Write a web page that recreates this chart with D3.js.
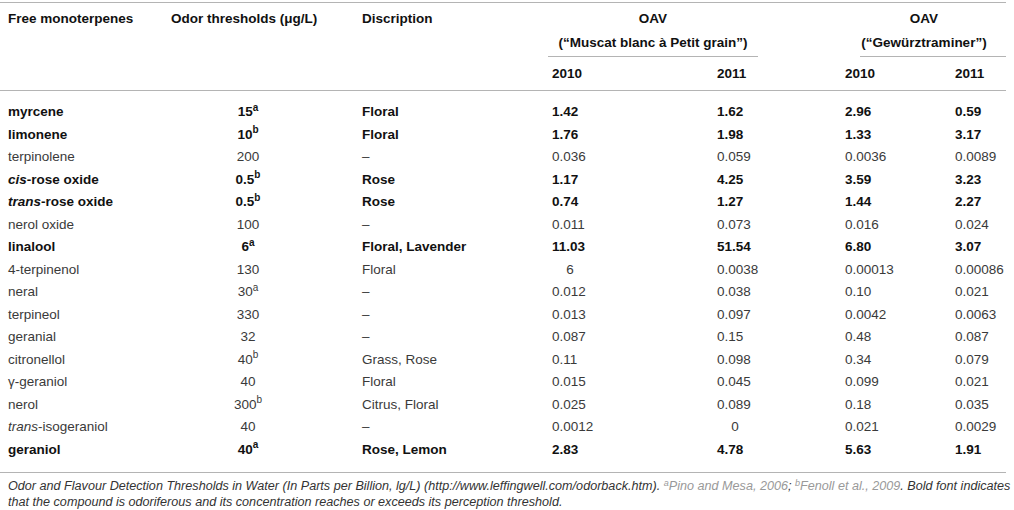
<!DOCTYPE html>
<html>
<head>
<meta charset="utf-8">
<script src="https://cdn.jsdelivr.net/npm/d3@7/dist/d3.min.js"></script>
<style>
  body { margin: 0; background: #fff; }
  svg text { font-family: "Liberation Sans", Arial, Helvetica, sans-serif; }
</style>
</head>
<body>
<div id="table"></div>
<script>
// table content
var compounds = ['myrcene', 'limonene', 'terpinolene', '*cis*-rose oxide', '*trans*-rose oxide', 'nerol oxide',
	'linalool', '4-terpinenol', 'neral', 'terpineol', 'geranial', 'citronellol', 'γ-geraniol', 'nerol',
	'*trans*-isogeraniol', 'geraniol'];
var thresholds = ['15', '10', '200', '0.5', '0.5', '100', '6', '130', '30', '330', '32', '40', '40', '300', '40', '40'];
var thresholdRefs = ['a', 'b', '', 'b', 'b', '', 'a', '', 'a', '', '', 'b', '', 'b', '', 'a'];
var descriptions = ['Floral', 'Floral', '–', 'Rose', 'Rose', '–', 'Floral, Lavender', 'Floral', '–', '–', '–',
	'Grass, Rose', 'Floral', 'Citrus, Floral', '–', 'Rose, Lemon'];
var muscat2010 = ['1.42', '1.76', '0.036', '1.17', '0.74', '0.011', '11.03', '6', '0.012', '0.013', '0.087', '0.11', '0.015', '0.025', '0.0012', '2.83'];
var muscat2011 = ['1.62', '1.98', '0.059', '4.25', '1.27', '0.073', '51.54', '0.0038', '0.038', '0.097', '0.15', '0.098', '0.045', '0.089', '0', '4.78'];
var gewurz2010 = ['2.96', '1.33', '0.0036', '3.59', '1.44', '0.016', '6.80', '0.00013', '0.10', '0.0042', '0.48', '0.34', '0.099', '0.18', '0.021', '5.63'];
var gewurz2011 = ['0.59', '3.17', '0.0089', '3.23', '2.27', '0.024', '3.07', '0.00086', '0.021', '0.0063', '0.087', '0.079', '0.021', '0.035', '0.0029', '1.91'];
// bold = odoriferous, concentration reaches the threshold
var odoriferous = [1, 1, 0, 1, 1, 0, 1, 0, 0, 0, 0, 0, 0, 0, 0, 1];

var columns = ['name', 'thr', 'desc', 'm10', 'm11', 'g10', 'g11'];
var years = ['2010', '2011', '2010', '2011'];

var width = 1014, height = 510;
var fontSize = '13.5px';

var colX = d3.scaleOrdinal()
	.domain(columns)
	.range([8, 248, 362, 552, 717, 845, 955]);

var rowY = d3.scaleLinear()
	.domain([0, compounds.length - 1])
	.range([116, 453.5]);

var svg = d3.select('#table').append('svg')
	.attr('width', width)
	.attr('height', height);

var ink = '#111', soft = '#3a3a3a', rule = '#b4b4b4';

// rules
function hline(x1, x2, y) {
	svg.append('line')
		.attr('x1', x1).attr('x2', x2)
		.attr('y1', y).attr('y2', y)
		.style('stroke', rule)
		.style('stroke-width', 1.2);
}
hline(0, 1006, 2.5);
hline(0, 1006, 90.5);
hline(548, 758, 56.5);
hline(860, 1006, 56.5);
hline(0, 1006, 472.5);

// header
var head = svg.append('g').style('font-size', fontSize).style('font-weight', 'bold').style('fill', ink);
head.append('text').attr('x', colX('name')).attr('y', 23).text('Free monoterpenes');
head.append('text').attr('x', 171).attr('y', 23).text('Odor thresholds (μg/L)');
head.append('text').attr('x', colX('desc')).attr('y', 23).text('Discription');
head.append('text').attr('x', 653).attr('y', 23).style('text-anchor', 'middle').text('OAV');
head.append('text').attr('x', 653).attr('y', 47).style('text-anchor', 'middle').text('(“Muscat blanc à Petit grain”)');
head.append('text').attr('x', 924).attr('y', 23).style('text-anchor', 'middle').text('OAV');
head.append('text').attr('x', 924).attr('y', 47).style('text-anchor', 'middle').text('(“Gewürztraminer”)');
head.selectAll('.year')
	.data(years)
	.enter().append('text')
	.attr('class', 'year')
	.attr('x', function(d, i) { return colX(columns[i + 3]); })
	.attr('y', 78)
	.text(function(d) { return d; });

// body rows
var rows = svg.selectAll('.row')
	.data(compounds)
	.enter().append('g')
	.attr('class', 'row')
	.attr('transform', function(d, i) { return 'translate(0,' + rowY(i) + ')'; })
	.style('font-size', fontSize)
	.style('font-weight', function(d, i) { return odoriferous[i] ? 'bold' : 'normal'; })
	.style('fill', function(d, i) { return odoriferous[i] ? ink : soft; });

// compound names, *...* marks the italic part
rows.append('text')
	.attr('x', colX('name'))
	.each(function(d) {
		var t = d3.select(this);
		d.split('*').forEach(function(part, k) {
			if (!part) return;
			t.append('tspan').style('font-style', k % 2 ? 'italic' : 'normal').text(part);
		});
	});

rows.append('text')
	.attr('x', colX('thr'))
	.style('text-anchor', 'middle')
	.each(function(d, i) {
		var t = d3.select(this);
		t.append('tspan').text(thresholds[i]);
		if (thresholdRefs[i]) {
			t.append('tspan').attr('dy', -5.5).style('font-size', '10px').text(thresholdRefs[i]);
		}
	});

rows.append('text')
	.attr('x', colX('desc'))
	.text(function(d, i) { return descriptions[i]; });

var series = [muscat2010, muscat2011, gewurz2010, gewurz2011];
series.forEach(function(vals, s) {
	var key = columns[s + 3];
	rows.append('text')
		.attr('x', function(d, i) {
			// lone integers sit centred in the Muscat columns
			return (s < 2 && vals[i].indexOf('.') < 0) ? colX(key) + 18 : colX(key);
		})
		.style('text-anchor', function(d, i) { return (s < 2 && vals[i].indexOf('.') < 0) ? 'middle' : 'start'; })
		.text(function(d, i) { return vals[i]; });
});

// footnote
var note = svg.append('g')
	.style('font-style', 'italic')
	.style('fill', '#333');

var line1 = note.append('text').attr('x', 8).attr('y', 490).style('font-size', '11px');
line1.append('tspan').text('Odor and Flavour Detection Thresholds in Water (In Parts per Billion, lg/L) (http://www.leffingwell.com/odorback.htm). ');
line1.append('tspan').attr('dy', -4).style('font-size', '8px').style('fill', '#999').text('a');
line1.append('tspan').attr('dy', 4).style('fill', '#999').text('Pino and Mesa, 2006');
line1.append('tspan').text('; ');
line1.append('tspan').attr('dy', -4).style('font-size', '8px').style('fill', '#999').text('b');
line1.append('tspan').attr('dy', 4).style('fill', '#999').text('Fenoll et al., 2009');
line1.append('tspan').text('. Bold font indicates');

note.append('text').attr('x', 8).attr('y', 506).style('font-size', '11px')
	.text('that the compound is odoriferous and its concentration reaches or exceeds its perception threshold.');

// fit the first note line to the table width
var w = line1.node().getComputedTextLength();
var fs = 11 * 1004 / w;
note.selectAll('text').style('font-size', fs + 'px');
line1.selectAll('tspan').filter(function() { return this.textContent.length === 1; })
	.style('font-size', (fs * 0.72) + 'px');
</script>
</body>
</html>
